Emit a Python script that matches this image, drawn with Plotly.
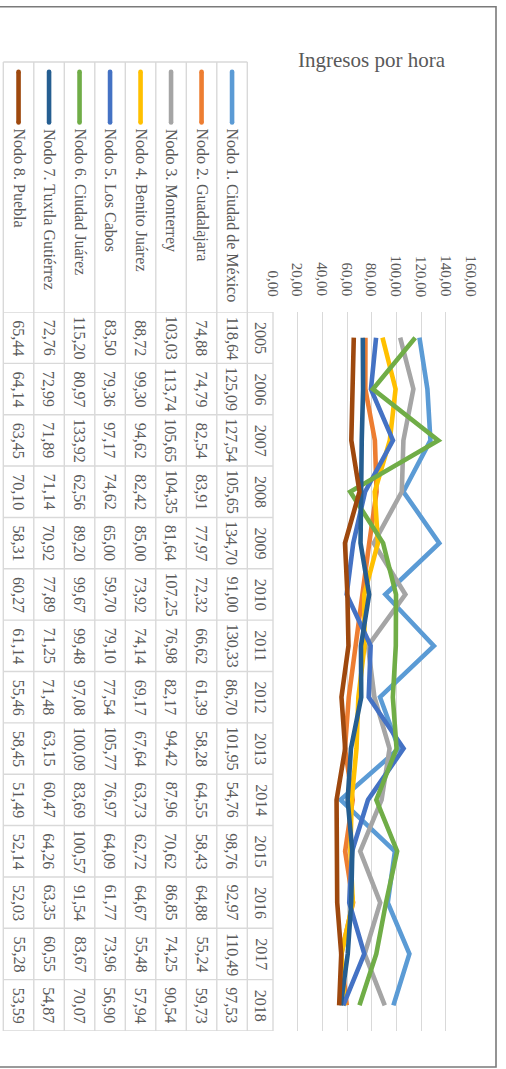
import plotly.graph_objects as go

# ---- data -------------------------------------------------------------
years = list(range(2005, 2019))

nodo_1 = [118.64, 125.09, 127.54, 105.65, 134.70, 91.00, 130.33, 86.70, 101.95, 54.76, 98.76, 92.97, 110.49, 97.53]
nodo_2 = [74.88, 74.79, 82.54, 83.91, 77.97, 72.32, 66.62, 61.39, 58.28, 64.55, 58.43, 64.88, 55.24, 59.73]
nodo_3 = [103.03, 113.74, 105.65, 104.35, 81.64, 107.25, 76.98, 82.17, 94.42, 87.96, 70.62, 86.85, 74.25, 90.54]
nodo_4 = [88.72, 99.30, 94.62, 82.42, 85.00, 73.92, 74.14, 69.17, 67.64, 63.73, 62.72, 64.67, 55.48, 57.94]
nodo_5 = [83.50, 79.36, 97.17, 74.62, 65.00, 59.70, 79.10, 77.54, 105.77, 76.97, 64.09, 61.77, 73.96, 56.90]
nodo_6 = [115.20, 80.97, 133.92, 62.56, 89.20, 99.67, 99.48, 97.08, 100.09, 83.69, 100.57, 91.54, 83.67, 70.07]
nodo_7 = [72.76, 72.99, 71.89, 71.14, 70.92, 77.89, 71.25, 71.48, 63.15, 60.47, 64.26, 63.35, 60.55, 54.87]
nodo_8 = [65.44, 64.14, 63.45, 70.10, 58.31, 60.27, 61.14, 55.46, 58.45, 51.49, 52.14, 52.03, 55.28, 53.59]

series_names = [
    "Nodo 1. Ciudad de México",
    "Nodo 2. Guadalajara",
    "Nodo 3. Monterrey",
    "Nodo 4. Benito Juárez",
    "Nodo 5. Los Cabos",
    "Nodo 6. Ciudad Juárez",
    "Nodo 7. Tuxtla Gutiérrez",
    "Nodo 8. Puebla",
]
series_values = [nodo_1, nodo_2, nodo_3, nodo_4, nodo_5, nodo_6, nodo_7, nodo_8]

axis_ticks = [0, 20, 40, 60, 80, 100, 120, 140, 160]
axis_tick_labels = ["0,00", "20,00", "40,00", "60,00", "80,00", "100,00", "120,00", "140,00", "160,00"]

title_text = "Ingresos por hora"

# ---- styling ------------------------------------------------------------
colors = ["#5B9BD5", "#ED7D31", "#A5A5A5", "#FFC000", "#4472C4", "#70AD47", "#255E91", "#9E480E"]
W, H = 506, 1069
FONT = "Liberation Serif, Times New Roman, serif"
TEXT = "#595959"
GRID = "#d9d9d9"


def px(x):
    return x / W


def py(y):
    return 1 - y / H


# layout geometry (pixels)
plot_left, plot_right = 273.0, 470.5
plot_top, plot_bottom = 312.0, 1031.0
table_left, name_right = 3.3, 247.3
header_top = 62.0
col_w = (name_right - table_left) / 8


def col_center(series_idx):
    # series 1 sits in the rightmost name column, series 8 in the leftmost
    k = 7 - series_idx
    return table_left + col_w * (k + 0.5)


fig = go.Figure()

for name, vals, c in zip(series_names, series_values, colors):
    fig.add_trace(go.Scatter(
        x=vals, y=years, mode="lines", name=name,
        line=dict(color=c, width=4.6, shape="linear"),
        hoverinfo="skip",
    ))

shapes = []
annotations = []

# outer frame
shapes.append(dict(type="rect", xref="paper", yref="paper",
                   x0=px(-5), x1=px(496), y0=py(6.7), y1=py(1067),
                   line=dict(color="#7a7a7a", width=1.6), fillcolor="rgba(0,0,0,0)"))

# table grid: vertical lines
for k in range(9):
    x = table_left + col_w * k
    shapes.append(dict(type="line", xref="paper", yref="paper",
                       x0=px(x), x1=px(x), y0=py(header_top), y1=py(plot_bottom),
                       line=dict(color=GRID, width=1.4)))
shapes.append(dict(type="line", xref="paper", yref="paper",
                   x0=px(plot_left), x1=px(plot_left), y0=py(plot_top), y1=py(plot_bottom),
                   line=dict(color=GRID, width=1.4)))
# header top
shapes.append(dict(type="line", xref="paper", yref="paper",
                   x0=px(table_left), x1=px(name_right), y0=py(header_top), y1=py(header_top),
                   line=dict(color=GRID, width=1.4)))
# row separators, tied to the year axis
for i in range(len(years) + 1):
    yv = years[0] - 0.5 + i
    shapes.append(dict(type="line", xref="paper", yref="y",
                       x0=px(table_left), x1=px(plot_left), y0=yv, y1=yv,
                       line=dict(color=GRID, width=1.4)))

# legend keys and series names
key_top, key_bottom = 71.8, 122.5
for i, (name, c) in enumerate(zip(series_names, colors)):
    xc = col_center(i)
    shapes.append(dict(type="line", xref="paper", yref="paper",
                       x0=px(xc), x1=px(xc), y0=py(key_top), y1=py(key_bottom),
                       line=dict(color=c, width=4.6)))
    for yy in (key_top, key_bottom):
        shapes.append(dict(type="circle", xref="paper", yref="paper",
                           xsizemode="pixel", ysizemode="pixel",
                           xanchor=px(xc), yanchor=py(yy),
                           x0=-2.3, x1=2.3, y0=-2.3, y1=2.3,
                           fillcolor=c, line=dict(width=0)))
    annotations.append(dict(xref="paper", yref="paper", x=px(xc), y=py(127.5),
                            xanchor="center", yanchor="top", textangle=90,
                            text=name, showarrow=False, borderpad=0,
                            font=dict(family=FONT, size=16, color=TEXT)))

# year column
year_center = (name_right + plot_left) / 2
for yr in years:
    annotations.append(dict(xref="paper", yref="y", x=px(year_center + 0.5), y=yr,
                            xanchor="center", yanchor="middle", textangle=90,
                            text=str(yr), showarrow=False, borderpad=0,
                            font=dict(family=FONT, size=16, color=TEXT)))

# value cells
for i, vals in enumerate(series_values):
    xc = col_center(i)
    for yr, v in zip(years, vals):
        annotations.append(dict(xref="paper", yref="y", x=px(xc), y=yr,
                                xanchor="center", yanchor="middle", textangle=90,
                                text=f"{v:.2f}".replace(".", ","), showarrow=False, borderpad=0,
                                font=dict(family=FONT, size=16, color=TEXT)))

# value-axis labels above the plot
for t, lab in zip(axis_ticks, axis_tick_labels):
    annotations.append(dict(xref="x", yref="paper", x=t, y=py(297.5),
                            xanchor="center", yanchor="bottom", textangle=90,
                            text=lab, showarrow=False, borderpad=0,
                            font=dict(family=FONT, size=15, color=TEXT)))

# chart title
annotations.append(dict(xref="paper", yref="paper", x=px(371.5), y=py(60),
                        xanchor="center", yanchor="middle",
                        text=title_text, showarrow=False, borderpad=0,
                        font=dict(family=FONT, size=21, color=TEXT)))

fig.update_layout(
    width=W, height=H,
    margin=dict(l=0, r=0, t=0, b=0),
    paper_bgcolor="white", plot_bgcolor="white",
    showlegend=False,
    xaxis=dict(range=[0, 160], domain=[px(plot_left), px(plot_right)],
               tick0=0, dtick=20, showgrid=True, gridcolor=GRID, gridwidth=1.4,
               zeroline=False, showline=False, showticklabels=False, ticks=""),
    yaxis=dict(range=[years[-1] + 0.5, years[0] - 0.5],
               domain=[py(plot_bottom), py(plot_top)],
               showgrid=False, zeroline=False, showline=False,
               showticklabels=False, ticks=""),
    shapes=shapes,
    annotations=annotations,
)

fig.write_html("out.html")
